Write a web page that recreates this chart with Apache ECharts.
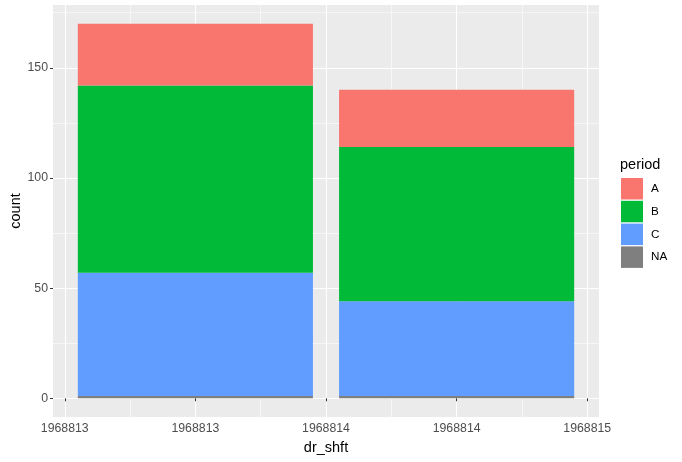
<!DOCTYPE html>
<html>
<head>
<meta charset="utf-8">
<script src="https://cdn.jsdelivr.net/npm/echarts@6/dist/echarts.min.js"></script>
<style>html,body{margin:0;padding:0;background:#fff;}#c{width:682px;height:462px;}</style>
</head>
<body>
<div id="c"></div>
<script>
// Data
const xPositions = [1968813.5, 1968814.5];
const periods = ['A', 'B', 'C', 'NA'];
const countA  = [28, 26];
const countB  = [85, 70];
const countC  = [56, 43];
const countNA = [1, 1];
const xTicks = [1968813, 1968813.5, 1968814, 1968814.5, 1968815];
const xTickLabels = ['1968813', '1968813', '1968814', '1968814', '1968815'];
const yTicks = [0, 50, 100, 150];

const colors = { A: '#F8766D', B: '#00BA38', C: '#619CFF', NA: '#7F7F7F' };
const values = { A: countA, B: countB, C: countC, NA: countNA };

const font = 'Liberation Sans, Arial, sans-serif';
const barWidthUnits = 0.9;
// ggplot stacks the first level on top: NA at bottom, then C, B, A
const stackOrder = ['NA', 'C', 'B', 'A'];

function baseFor(p, i) {
  let b = 0;
  for (const q of stackOrder) { if (q === p) break; b += values[q][i]; }
  return b;
}

const series = stackOrder.map(p => ({
  name: p,
  type: 'custom',
  itemStyle: { color: colors[p] },
  encode: { x: 0, y: 2 },
  data: xPositions.map((x, i) => [x, baseFor(p, i), baseFor(p, i) + values[p][i]]),
  renderItem: (params, api) => {
    const x = api.value(0), y0 = api.value(1), y1 = api.value(2);
    const pA = api.coord([x - barWidthUnits / 2, y1]);
    const pB = api.coord([x + barWidthUnits / 2, y0]);
    return {
      type: 'rect',
      shape: { x: pA[0], y: pA[1], width: pB[0] - pA[0], height: pB[1] - pA[1] },
      style: { fill: colors[p] }
    };
  }
}));

const chart = echarts.init(document.getElementById('c'), null, { renderer: 'canvas' });
chart.setOption({
  animation: false,
  backgroundColor: '#ffffff',
  grid: {
    left: 53, right: 83, top: 5, bottom: 45, containLabel: false, outerBoundsMode: 'none',
    show: true, backgroundColor: '#EBEBEB', borderWidth: 0
  },
  title: {
    text: 'period', left: 620, top: 157, padding: 0,
    textStyle: { fontFamily: font, fontSize: 14.5, fontWeight: 'normal', color: '#000' }
  },
  legend: {
    data: periods, orient: 'vertical', left: 621, top: 178, padding: 0,
    icon: 'rect', itemWidth: 22, itemHeight: 21.5, itemGap: 1.3,
    textStyle: { fontFamily: font, fontSize: 11.7, color: '#000', padding: [0, 0, 0, 3] }
  },
  xAxis: {
    type: 'value', min: 1968812.955, max: 1968815.045, splitNumber: 4,
    name: 'dr_shft', nameLocation: 'middle', nameGap: 23,
    nameTextStyle: { fontFamily: font, fontSize: 14.5, color: '#000' },
    axisLine: { show: false },
    axisTick: { show: true, customValues: xTicks, length: 3, lineStyle: { color: '#333', width: 1 } },
    axisLabel: {
      customValues: xTicks, margin: 6, fontFamily: font, fontSize: 12.3, color: '#4D4D4D',
      formatter: v => { const i = xTicks.indexOf(v); return i >= 0 ? xTickLabels[i] : ''; }
    },
    splitLine: { show: true, lineStyle: { color: '#ffffff', width: 1.1 } },
    minorTick: { show: false, splitNumber: 2 },
    minorSplitLine: { show: true, lineStyle: { color: '#ffffff', width: 0.55 } }
  },
  yAxis: {
    type: 'value', min: -8.5, max: 178.5, splitNumber: 4,
    name: 'count', nameLocation: 'middle', nameGap: 30, nameMoveOverlap: false,
    nameTextStyle: { fontFamily: font, fontSize: 14.5, color: '#000' },
    axisLine: { show: false },
    axisTick: { show: true, customValues: yTicks, length: 3, lineStyle: { color: '#333', width: 1 } },
    axisLabel: { customValues: yTicks, margin: 5, fontFamily: font, fontSize: 12.3, color: '#4D4D4D' },
    splitLine: { show: true, lineStyle: { color: '#ffffff', width: 1.1 } },
    minorTick: { show: false, splitNumber: 2 },
    minorSplitLine: { show: true, lineStyle: { color: '#ffffff', width: 0.55 } }
  },
  series: series
});
</script>
</body>
</html>
